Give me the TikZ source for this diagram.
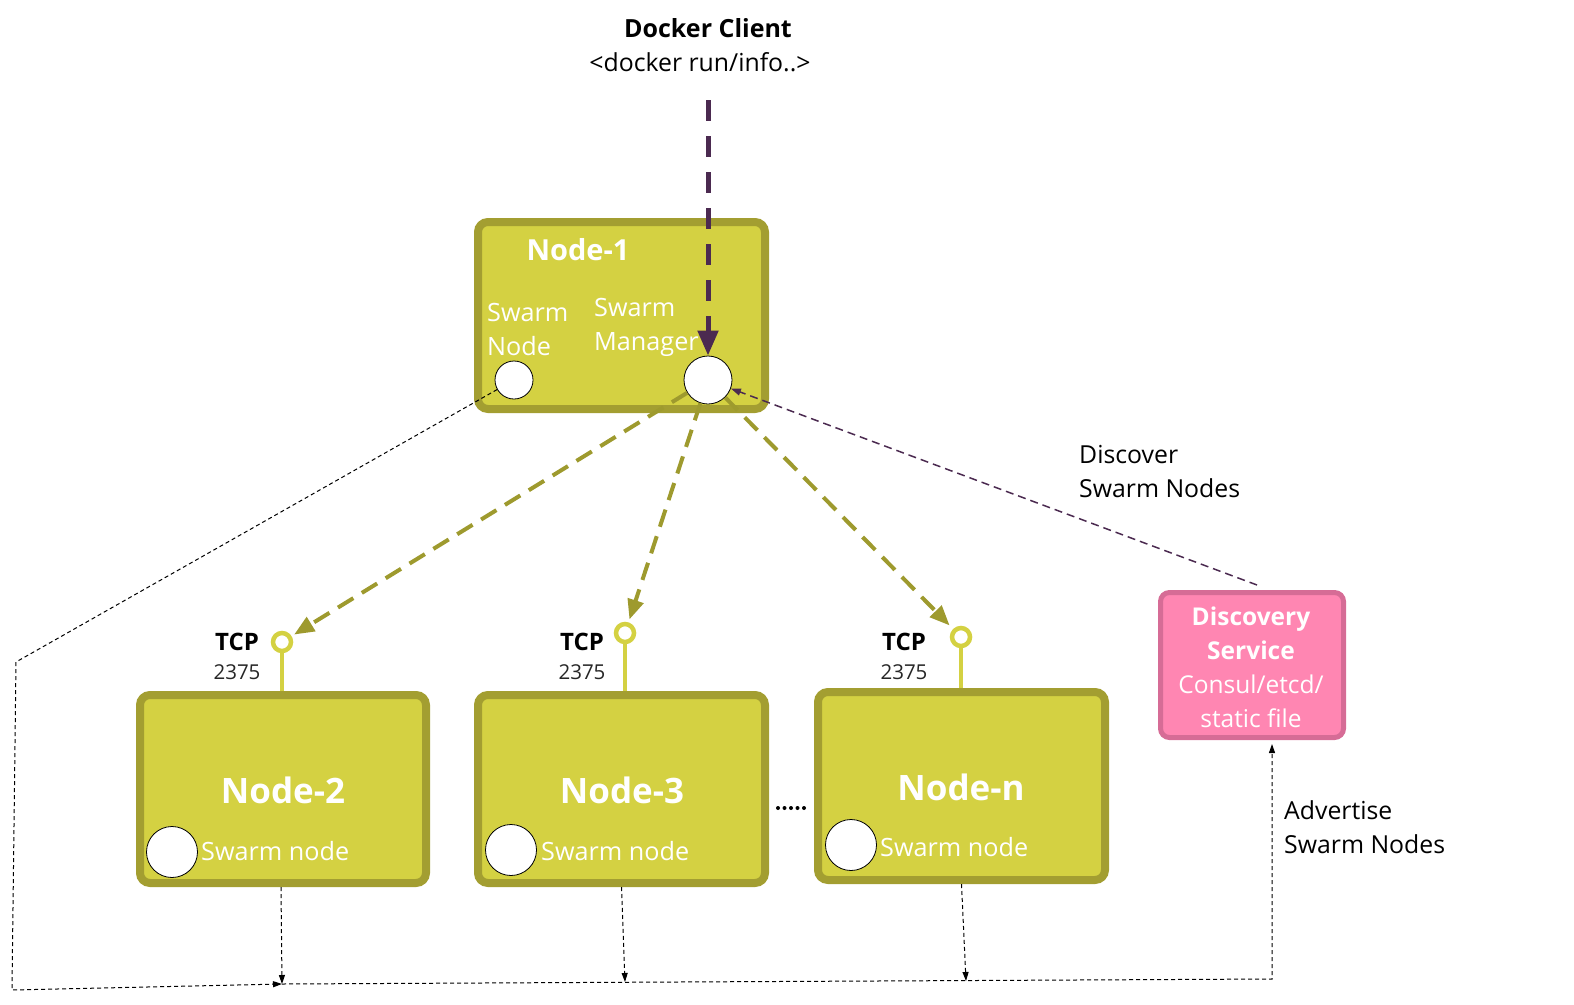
\documentclass[tikz,border=0pt]{standalone}
\usepackage{fontspec}
\setmainfont{Open Sans}
\usetikzlibrary{arrows.meta}
\definecolor{olivefill}{HTML}{D4D142}
\definecolor{olivedark}{HTML}{A39E31}
\definecolor{olivearrow}{HTML}{9E9A2E}
\definecolor{purp}{HTML}{4B2A50}
\definecolor{pinkfill}{HTML}{FF86B2}
\definecolor{pinkdark}{HTML}{D66C96}
\tikzset{
  nodebox/.style={draw=olivedark, fill=olivefill, line width=8pt, rounded corners=10pt, inner sep=0pt},
  discbox/.style={draw=pinkdark, fill=pinkfill, line width=5pt, rounded corners=9pt, inner sep=0pt},
  port/.style={circle, draw=black, fill=white, line width=0.8pt, inner sep=0pt},
  tcpring/.style={circle, draw=olivefill, fill=white, line width=4.5pt, minimum size=18pt, inner sep=0pt},
  bigtitle/.style={text=white, font=\fontsize{35}{40}\selectfont\bfseries},
  wtext/.style={text=white, font=\fontsize{25.2}{34}\selectfont, align=left, inner sep=0pt},
  btext/.style={text=black, font=\fontsize{24.8}{34}\selectfont, align=left, inner sep=0pt},
  tcplab/.style={text=black, font=\fontsize{24}{28}\selectfont\bfseries, inner sep=0pt},
  portlab/.style={text=black!85, font=\fontsize{20.5}{24}\selectfont, inner sep=0pt},
  clientarrow/.style={draw=purp, line width=5pt, dash pattern=on 21pt off 15pt, -{Triangle[length=25pt,width=20pt]}},
  olivearr/.style={draw=olivearrow, line width=4pt, dash pattern=on 18pt off 10pt, -{Triangle[length=20pt,width=16pt]}},
  thinpurp/.style={draw=purp, line width=1.5pt, dash pattern=on 8pt off 5pt, -{Triangle[length=10pt,width=7pt]}},
  dotline/.style={draw=black, line width=1pt, dash pattern=on 4pt off 3pt},
  dotarr/.style={dotline, -{Triangle[length=9pt,width=6pt]}},
}
\begin{document}
\begin{tikzpicture}[x=1pt,y=-1pt]
\useasboundingbox (0,0) rectangle (1574,1004);
% texts at top
\node[tcplab, font=\fontsize{25}{30}\selectfont\bfseries] (dc) at (708,28) {Docker Client};
\node[btext] (dcmd) at (700,62) {<docker run/info..>};
% Node-1
\node[nodebox, minimum width=287pt, minimum height=187pt] (n1) at (621.5,315.5) {};
\node[bigtitle, font=\fontsize{29}{34}\selectfont\bfseries] (n1t) at (578,250) {Node-1};
\node[wtext, anchor=west] (n1sl) at (487,329) {Swarm\\Node};
\node[wtext, anchor=west] (n1ml) at (594,327) {Swarm\\Manager};
\node[port, minimum size=38pt] (n1s) at (514,380) {};
\node[port, minimum size=48pt] (mgr) at (708,380) {};
% Other nodes
\node[nodebox, minimum width=286pt, minimum height=188pt] (n2) at (283,789) {};
\node[nodebox, minimum width=287pt, minimum height=188pt] (n3) at (621.5,789) {};
\node[nodebox, minimum width=287pt, minimum height=188pt] (nn) at (961.5,786) {};
\node[bigtitle] (n2t) at (283,790) {Node-2};
\node[bigtitle] (n3t) at (622,790) {Node-3};
\node[bigtitle] (nnt) at (961,787) {Node-n};
\node[port, minimum width=47pt, minimum height=51pt] (n2c) at (172,852) {};
\node[port, minimum width=47pt, minimum height=51pt] (n3c) at (511,850) {};
\node[port, minimum width=47pt, minimum height=51pt] (nnc) at (851,845) {};
\node[wtext, anchor=west] (n2l) at (201,851) {Swarm node};
\node[wtext, anchor=west] (n3l) at (541,851) {Swarm node};
\node[wtext, anchor=west] (nnl) at (880,847) {Swarm node};
% TCP ports
\node[tcpring] (t2) at (282,642) {};
\node[tcpring] (t3) at (625,633) {};
\node[tcpring] (tn) at (961,637) {};
\draw[olivefill, line width=4pt] (t2) -- (t2 |- n2.north);
\draw[olivefill, line width=4pt] (t3) -- (t3 |- n3.north);
\draw[olivefill, line width=4pt] (tn) -- (tn |- nn.north);
\node[tcplab] (t2a) at (237,642) {TCP};
\node[portlab] (t2b) at (237,672) {2375};
\node[tcplab] (t3a) at (582,642) {TCP};
\node[portlab] (t3b) at (582,672) {2375};
\node[tcplab] (tna) at (904,642) {TCP};
\node[portlab] (tnb) at (904,672) {2375};
% dots between Node-3 and Node-n
\foreach \xx in {778,784.5,791,797.5,804} \fill[black] (\xx,808) circle (2pt);
% Discovery service
\node[discbox, minimum width=183pt, minimum height=145pt] (disc) at (1252,665) {};
\node[text=white, font=\fontsize{24.5}{34}\selectfont, align=center, inner sep=0pt] (disct) at (1251,667)
  {\textbf{Discovery}\\\textbf{Service}\\Consul/etcd/\\static file};
\node[btext, anchor=west] (discl) at (1079,472) {Discover\\Swarm Nodes};
\node[btext, anchor=west] (advl) at (1284,827) {Advertise\\Swarm Nodes};
% connectors
\coordinate (cl) at (708,100);
\draw[clientarrow] (cl) -- (mgr);
\draw[olivearr, shorten >=3pt] (mgr) -- (t2);
\draw[olivearr, shorten >=3pt] (mgr) -- (t3);
\draw[olivearr, shorten >=5pt] (mgr) -- (tn);
\coordinate (dtop) at (1257,585);
\draw[thinpurp] (dtop) -- (mgr);
\coordinate (c1) at (16,662);
\coordinate (c2) at (12,990);
\coordinate (b2) at (282,984);
\coordinate (b3) at (625,982);
\coordinate (bn) at (966,981);
\coordinate (cr) at (1272,979);
\draw[dotarr] (n1s) -- (c1) -- (c2) -- (b2);
\draw[dotarr, shorten >=4pt] (b2) -- (cr) -- (cr |- disc.south);
\draw[dotarr] ([xshift=-2pt]n2.south) -- (b2);
\draw[dotarr] (n3.south) -- (b3);
\draw[dotarr] (nn.south) -- (bn);
\end{tikzpicture}
\end{document}
